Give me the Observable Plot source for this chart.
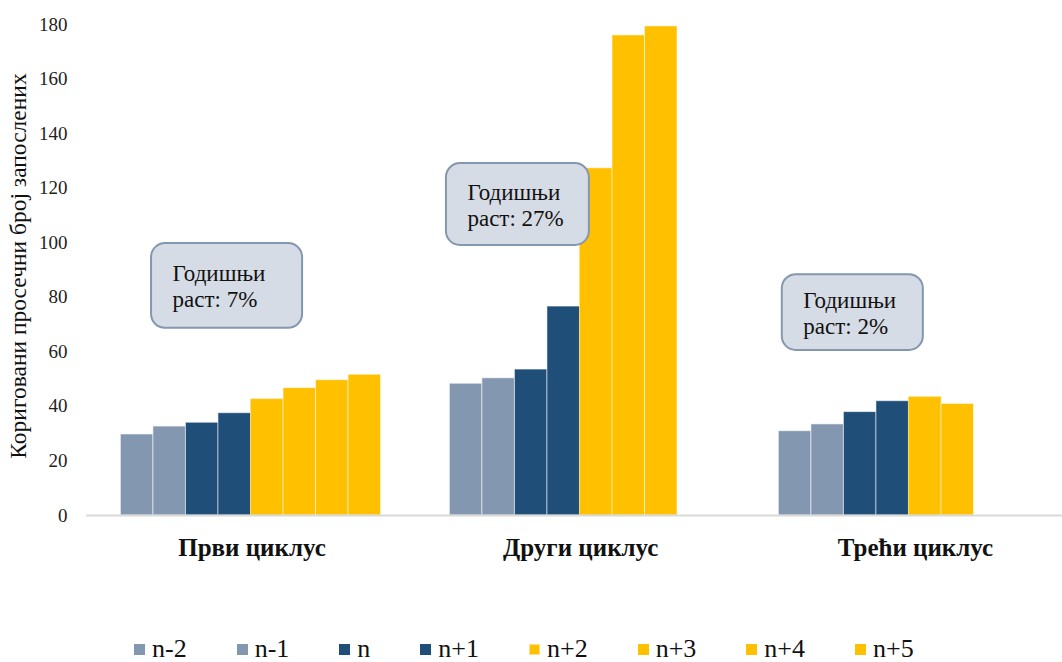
<!DOCTYPE html>
<html><head><meta charset="utf-8">
<script src="https://cdn.jsdelivr.net/npm/d3@7"></script>
<script src="https://cdn.jsdelivr.net/npm/@observablehq/plot@0.6"></script>
<style>
body{margin:0;background:#fff;font-family:"Liberation Serif","Times New Roman",serif;}
#chart{width:1062px;height:662px;position:relative;}
#legend{position:absolute;left:134px;top:636px;height:26px;display:flex;align-items:center;gap:50px;font-size:26px;color:#111;line-height:26px;}
.item{display:flex;align-items:center;}
.sw{width:11px;height:11px;margin-right:7px;box-sizing:border-box;}
</style>
</head><body>
<div id="chart"></div>
<script>
// ---- data ----
const cycles = ["Први циклус", "Други циклус", "Трећи циклус"];
const series = ["n-2", "n-1", "n", "n+1", "n+2", "n+3", "n+4", "n+5"];
const cycle1 = [29.7, 32.6, 34.0, 37.5, 42.6, 46.7, 49.6, 51.6];
const cycle2 = [48.3, 50.3, 53.5, 76.6, 127.2, 176.0, 179.3, null];
const cycle3 = [30.9, 33.4, 37.9, 41.9, 43.4, 40.9, null, null];
const growthNotes = ["Годишњи\nраст: 7%", "Годишњи\nраст: 27%", "Годишњи\nраст: 2%"];
const yTicks = [0, 20, 40, 60, 80, 100, 120, 140, 160, 180];
const yTitle = "Кориговани просечни број запослених";

// ---- styling / layout ----
const seriesColors = ["#8497B0", "#8497B0", "#1F4E79", "#1F4E79", "#FFC000", "#FFC000", "#FFC000", "#FFC000"];
const seriesStroke = ["#ffffff", "#ffffff", "#ffffff", "#ffffff", "#FFE08A", "#ffffff", "#ffffff", "#ffffff"];
const barWidth = 0.104; // in category units
// callout boxes (category units / value units)
const noteBoxes = [
  {x1: -0.318, x2: 0.165, y1: 68.6, y2: 99.7},
  {x1: 0.625, x2: 1.082, y1: 99.0, y2: 129.0},
  {x1: 1.699, x2: 2.150, y1: 60.5, y2: 88.3}
];
const labelDx = [1, 17, 39];
const serif = '"Liberation Serif", "Times New Roman", serif';

// build table
const valuesByCycle = [cycle1, cycle2, cycle3];
const bars = [];
valuesByCycle.forEach((vals, ci) => {
  const present = series.map((s, si) => ({s, si, v: vals[si]})).filter(d => d.v != null);
  const n = present.length;
  present.forEach((d, j) => {
    const x1 = ci + (j - n / 2) * barWidth;
    bars.push({cycle: cycles[ci], series: d.s, value: d.v, x1, x2: x1 + barWidth, stroke: seriesStroke[d.si]});
  });
});
const notes = noteBoxes.map((b, i) => ({...b, text: growthNotes[i], ym: (b.y1 + b.y2) / 2}));

const chart = Plot.plot({
  width: 1062,
  height: 615,
  marginLeft: 86,
  marginRight: 0,
  marginTop: 24,
  marginBottom: 100,
  style: {fontFamily: serif, fontSize: "19px", color: "#222", background: "#fff"},
  x: {domain: [-0.526, 2.595], axis: null},
  y: {domain: [0, 180], ticks: yTicks, tickSize: 0, tickPadding: 19, label: null, tickFormat: d => d},
  color: {domain: series, range: seriesColors},
  marks: [
    Plot.rectY(bars, {x1: "x1", x2: "x2", y: "value", fill: "series", stroke: d => d.stroke, strokeOpacity: 0.55, strokeWidth: 1}),
    Plot.ruleY([0], {stroke: "#D9D9D9", strokeWidth: 2}),
    Plot.rect(notes, {x1: "x1", x2: "x2", y1: "y1", y2: "y2", fill: "#D6DCE5", stroke: "#8497B0", strokeWidth: 2, rx: 14}),
    Plot.text(notes, {x: "x1", y: "ym", text: "text", textAnchor: "start", lineAnchor: "middle", dx: 21, fontSize: 23, lineHeight: 1.14, fill: "#111", fontFamily: serif}),
    ...cycles.map((c, i) => Plot.text([c], {x: [i], y: [0], text: d => d, dy: 32, dx: labelDx[i], fontSize: 25, fontWeight: "bold", fill: "#111", fontFamily: serif})),
    Plot.text([yTitle], {frameAnchor: "left", dx: -68, dy: -4, rotate: -90, textAnchor: "middle", lineAnchor: "middle", fontSize: 23.5, fill: "#111", text: d => d, fontFamily: serif})
  ]
});
const root = document.getElementById("chart");
root.appendChild(chart);

const legend = document.createElement("div");
legend.id = "legend";
series.forEach((s, i) => {
  const it = document.createElement("div");
  it.className = "item";
  const sw = document.createElement("span");
  sw.className = "sw";
  sw.style.background = seriesColors[i];
  if (i === 4) sw.style.border = "1.5px solid #FFE08A";
  const lb = document.createElement("span");
  lb.textContent = s;
  it.appendChild(sw); it.appendChild(lb);
  legend.appendChild(it);
});
root.appendChild(legend);
</script>
</body></html>
